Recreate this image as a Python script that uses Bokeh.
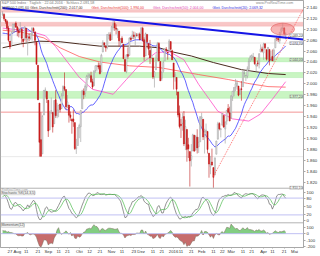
import numpy as np
import pandas as pd
from bokeh.plotting import figure
from bokeh.models import Range1d, FixedTicker, Span, Label, BoxAnnotation
from bokeh.embed import file_html
from bokeh.resources import INLINE

# ---------------- data ----------------
holidays = ["2015-09-07", "2015-11-26", "2015-12-25", "2016-01-01",
            "2016-01-18", "2016-02-15", "2016-03-25"]
days = pd.bdate_range("2015-07-20", "2016-05-10", freq="C", holidays=holidays)

# bars before the visible window (Jun 22 - Jul 17 2015), used only by indicators
pre_high = [2130.0, 2128.0, 2125.1, 2119.9, 2108.6, 2096.9, 2071.0, 2085.4, 2085.0, 2074.0,
            2083.7, 2077.0, 2074.2, 2081.3, 2100.7, 2111.0, 2114.2, 2124.4, 2128.0]
pre_low = [2110.6, 2119.9, 2108.6, 2102.3, 2095.4, 2056.2, 2056.6, 2067.0, 2071.0, 2053.3,
           2044.0, 2044.7, 2049.3, 2052.7, 2077.0, 2098.2, 2102.1, 2108.6, 2119.1]
pre_close = [2122.9, 2124.2, 2108.6, 2102.3, 2101.5, 2057.6, 2063.1, 2077.4, 2076.8, 2068.8,
             2081.3, 2046.7, 2051.3, 2076.6, 2099.6, 2109.0, 2107.4, 2124.3, 2126.6]

opens = [2126.8, 2127.0, 2118.2, 2114.2, 2102.2, 2078.2, 2070.0, 2094.0, 2108.0, 2111.0,
         2104.0, 2097.0, 2096.0, 2100.0, 2082.0, 2080.0, 2102.0, 2081.0, 2086.0, 2083.0, 2089.0, 2101.0, 2095.0, 2076.0, 2034.0, 1965.0, 1898.0, 1872.0, 1943.0, 1986.0, 1986.0,
         1970.0, 1916.0, 1950.8, 1947.8, 1927.0, 1971.0, 1941.6, 1951.5, 1963.0, 1955.0, 1978.0, 1995.0, 1989.7, 1960.8, 1961.4, 1943.2, 1934.8, 1935.9, 1929.2, 1881.9, 1887.1,
         1919.7, 1921.8, 1954.3, 1986.6, 1982.3, 1994.0, 2013.7, 2015.6, 2015.0, 2003.7, 1996.5, 2024.4, 2031.7, 2033.1, 2033.5, 2021.9, 2058.2, 2075.1, 2068.8, 2066.5, 2088.4, 2090.0,
         2080.8, 2102.6, 2110.6, 2101.7, 2098.6, 2096.6, 2077.2, 2083.4, 2072.3, 2044.6, 2022.1, 2053.7, 2052.0, 2083.7, 2082.8, 2089.4, 2084.4, 2089.3, 2088.8, 2091.0,
         2082.9, 2101.7, 2080.7, 2051.2, 2090.4, 2073.4, 2061.2, 2047.9, 2047.3, 2013.4, 2025.6, 2046.5, 2073.8, 2040.8, 2010.3, 2023.2, 2042.2, 2063.5, 2057.8, 2060.5, 2077.3, 2060.6,
         2038.2, 2013.8, 2011.7, 1985.3, 1946.0, 1926.1, 1927.8, 1940.3, 1891.7, 1916.7, 1888.7, 1876.2, 1861.5, 1877.4, 1906.3, 1878.8, 1902.5, 1885.2, 1894.0,
         1936.9, 1935.3, 1907.1, 1911.7, 1913.1, 1873.3, 1848.5, 1857.1, 1847.0, 1833.4, 1871.4, 1898.8, 1927.6, 1916.7, 1924.4, 1942.4, 1917.6, 1931.9, 1955.0, 1947.1,
         1937.1, 1976.6, 1985.6, 1994.0, 1996.1, 1996.1, 1981.4, 1991.0, 1994.7, 2019.3, 2015.3, 2014.2, 2026.9, 2041.2, 2047.9, 2048.6, 2048.6, 2032.5, 2037.9, 2035.8, 2058.3, 2063.8,
         2056.6, 2073.2, 2062.5, 2045.6, 2063.0, 2045.5, 2050.2, 2043.7, 2065.9, 2082.9, 2083.1, 2078.8, 2096.0, 2101.5, 2102.1, 2091.5]
highs = [2132.8, 2128.9, 2118.5, 2116.9, 2106.0, 2078.2, 2095.6, 2110.6, 2111.0, 2114.0,
         2105.7, 2102.5, 2112.7, 2103.0, 2082.0, 2105.4, 2102.0, 2089.0, 2092.9, 2092.5, 2102.9, 2103.5, 2096.0, 2076.0, 2034.0, 1965.0, 1948.0, 1943.0, 1989.0, 1993.5, 1986.7,
         1970.0, 1948.9, 1975.0, 1947.8, 1970.4, 1988.6, 1965.3, 1961.0, 1963.0, 1983.0, 1997.3, 2020.9, 1989.7, 1979.6, 1961.4, 1949.5, 1937.2, 1952.9, 1929.2, 1899.5, 1920.5,
         1927.2, 1951.4, 1989.2, 1991.6, 1999.3, 2016.5, 2020.1, 2018.7, 2022.3, 2009.6, 2024.2, 2033.5, 2034.5, 2039.1, 2038.0, 2055.2, 2079.7, 2075.1, 2070.4, 2090.4, 2094.3, 2094.3,
         2106.2, 2116.5, 2114.6, 2108.8, 2101.9, 2096.6, 2083.7, 2086.9, 2072.3, 2044.6, 2053.2, 2066.7, 2085.3, 2086.7, 2097.1, 2095.6, 2094.1, 2093.0, 2093.3, 2093.8,
         2103.4, 2104.3, 2085.0, 2093.8, 2090.4, 2073.9, 2080.3, 2067.7, 2047.3, 2022.9, 2053.9, 2076.7, 2076.4, 2040.8, 2022.9, 2042.7, 2064.7, 2067.4, 2057.8, 2081.6, 2077.3, 2062.5,
         2038.2, 2021.9, 2011.7, 1985.3, 1960.4, 1935.7, 1947.4, 1950.3, 1934.5, 1916.7, 1901.4, 1876.2, 1889.9, 1908.8, 1906.3, 1906.3, 1917.0, 1903.0, 1940.2,
         1947.2, 1935.3, 1918.0, 1927.4, 1913.1, 1873.3, 1868.3, 1881.6, 1847.0, 1864.8, 1895.8, 1930.7, 1930.0, 1918.8, 1946.7, 1942.4, 1932.1, 1951.8, 1963.0, 1958.3,
         1978.4, 1986.5, 1993.7, 2009.1, 2006.1, 1996.1, 1992.7, 2005.1, 2022.4, 2024.6, 2015.9, 2032.0, 2046.7, 2052.4, 2053.9, 2056.6, 2048.6, 2036.0, 2042.7, 2055.9, 2072.2, 2067.9,
         2075.1, 2074.0, 2062.5, 2067.3, 2063.0, 2060.6, 2062.9, 2065.0, 2083.2, 2087.8, 2083.2, 2094.7, 2104.1, 2111.1, 2103.8, 2094.3]
lows = [2123.7, 2115.4, 2110.0, 2098.0, 2077.1, 2063.5, 2069.0, 2094.0, 2094.0, 2102.0,
        2087.0, 2085.0, 2095.0, 2075.0, 2067.0, 2080.0, 2076.5, 2052.0, 2078.0, 2080.6, 2079.0, 2094.0, 2070.5, 2035.7, 1970.9, 1867.0, 1867.1, 1872.0, 1943.0, 1975.0, 1965.0,
        1903.0, 1916.0, 1944.7, 1911.0, 1927.0, 1937.9, 1937.2, 1939.0, 1948.0, 1954.0, 1977.9, 1986.7, 1953.5, 1955.8, 1929.2, 1932.6, 1908.9, 1921.5, 1879.2, 1871.9, 1887.1,
        1900.7, 1893.7, 1954.3, 1972.0, 1976.4, 1987.5, 2007.6, 2010.6, 2001.8, 1990.7, 1996.5, 2020.5, 2022.3, 2026.6, 2017.2, 2021.9, 2058.2, 2066.5, 2058.8, 2063.1, 2081.3, 2079.3,
        2080.8, 2097.5, 2097.0, 2090.4, 2083.7, 2068.2, 2069.9, 2074.9, 2045.7, 2022.0, 2019.4, 2045.9, 2052.0, 2078.8, 2082.8, 2081.4, 2070.3, 2086.3, 2084.1, 2080.4,
        2082.9, 2077.1, 2042.4, 2051.2, 2066.8, 2052.3, 2036.5, 2045.7, 2008.8, 1993.3, 2025.6, 2042.4, 2041.7, 2005.3, 2005.9, 2020.5, 2042.2, 2058.7, 2044.2, 2060.5, 2062.0, 2043.6,
        1989.7, 2004.2, 1979.1, 1938.8, 1918.5, 1901.1, 1914.4, 1886.3, 1878.9, 1857.8, 1864.6, 1812.3, 1849.0, 1877.4, 1876.0, 1878.8, 1872.7, 1873.7, 1894.0,
        1920.0, 1897.3, 1872.7, 1900.5, 1872.7, 1828.5, 1834.9, 1850.3, 1810.1, 1833.4, 1871.4, 1898.8, 1915.1, 1902.2, 1924.4, 1919.4, 1891.0, 1925.4, 1945.8, 1931.8,
        1937.1, 1968.8, 1977.4, 1986.8, 1989.4, 1977.4, 1979.8, 1969.2, 1994.7, 2012.1, 2005.2, 2010.0, 2022.2, 2041.2, 2043.1, 2040.6, 2034.9, 2022.5, 2032.0, 2028.3, 2058.3, 2057.5,
        2044.0, 2062.6, 2042.6, 2043.1, 2033.8, 2041.7, 2041.9, 2039.7, 2065.9, 2078.1, 2076.3, 2073.7, 2091.7, 2096.3, 2088.5, 2081.2]
closes = [2128.3, 2119.2, 2114.2, 2102.2, 2079.7, 2067.6, 2093.3, 2108.6, 2108.6, 2103.8,
          2098.0, 2093.3, 2099.8, 2083.6, 2077.6, 2104.2, 2084.1, 2086.1, 2083.4, 2091.5, 2102.4, 2096.9, 2079.6, 2035.7, 1970.9, 1893.2, 1867.6, 1940.5, 1987.7, 1988.9, 1972.2,
          1913.9, 1948.9, 1951.1, 1921.2, 1969.4, 1942.0, 1952.3, 1961.1, 1953.0, 1978.1, 1995.3, 1990.2, 1958.0, 1967.0, 1942.7, 1938.8, 1932.2, 1931.3, 1881.8, 1884.1, 1920.0,
          1923.8, 1951.4, 1987.1, 1979.9, 1995.8, 2013.4, 2014.9, 2017.5, 2003.7, 1994.2, 2023.9, 2033.1, 2033.7, 2030.8, 2018.9, 2052.5, 2075.2, 2071.2, 2065.9, 2090.4, 2089.4, 2079.4,
          2104.1, 2109.8, 2102.3, 2099.9, 2099.2, 2078.6, 2081.7, 2075.0, 2046.0, 2023.0, 2053.2, 2050.4, 2083.6, 2081.2, 2089.2, 2086.6, 2089.1, 2088.9, 2090.1, 2080.4,
          2102.6, 2079.5, 2049.6, 2091.7, 2077.1, 2063.6, 2047.6, 2052.2, 2012.4, 2021.9, 2043.4, 2073.1, 2041.9, 2005.6, 2021.2, 2039.0, 2064.3, 2061.0, 2056.5, 2078.4, 2063.4, 2043.9,
          2012.7, 2016.7, 1990.3, 1943.1, 1922.0, 1923.7, 1938.7, 1890.3, 1921.8, 1880.3, 1881.3, 1859.3, 1869.0, 1906.9, 1877.1, 1903.6, 1883.0, 1893.4, 1940.2,
          1939.4, 1903.0, 1912.5, 1915.5, 1880.1, 1853.4, 1852.2, 1851.9, 1829.1, 1864.8, 1895.6, 1926.8, 1917.8, 1917.8, 1945.5, 1921.3, 1929.8, 1951.7, 1948.1, 1932.2,
          1978.4, 1986.5, 1993.4, 2000.0, 2001.8, 1979.3, 1989.3, 1989.6, 2022.2, 2019.6, 2015.9, 2027.2, 2040.6, 2049.6, 2051.6, 2049.8, 2036.7, 2035.9, 2037.1, 2055.0, 2064.0, 2059.7,
          2072.8, 2066.1, 2045.2, 2066.7, 2041.9, 2047.6, 2042.0, 2061.7, 2082.4, 2082.8, 2080.7, 2094.3, 2100.8, 2102.4, 2091.5, 2091.6]

# long moving averages (bar index, value)
sma50_idx = [0, 19, 29, 36, 44, 52, 61, 75, 84, 93, 104, 113, 123, 133, 146, 156, 167, 175, 183, 192]
sma50_val = [2102, 2096, 2088, 2068, 2040, 2012, 1990, 1981, 2008, 2035, 2057, 2059, 2044, 1999, 1950, 1936, 1932, 1945, 1972, 2004]
sma100_idx = [0, 12, 28, 39, 52, 66, 86, 106, 133, 153, 166, 180, 192]
sma100_val = [2098, 2095, 2084, 2066, 2050, 2040, 2033, 2030, 2017, 2008, 2001, 1995, 1994]
sma200_idx = [0, 12, 25, 39, 52, 66, 79, 93, 106, 116, 128, 143, 162, 180, 192]
sma200_val = [2066, 2073, 2078, 2077, 2073, 2069, 2069, 2069, 2066, 2058, 2051, 2039, 2026, 2019, 2017]

# drawn objects
pink_zones = [(2130.7, 2136.1), (2105.4, 2112.7)]
green_zones = [(2040.4, 2047.7), (2011.5, 2020.6), (1973.6, 1986.2)]
red_level = 1948.3
dotted_levels = [2121.7, 2089.2, 2074.7, 1867.0]
zone_label_levels = [2089.2, 2074.7, 2044.0, 1977.2, 1810.1]
blue_trend = ([0, 204], [2138.5, 2081.0])
red_trend = ([143, 207], [1831.0, 2152.0])
ellipse_center = (190, 2100.0)
ellipse_size = (16.0, 21.7)

tick_dates = ["2015-07-27", "2015-08-03", "2015-08-11", "2015-08-21", "2015-09-01", "2015-09-11",
              "2015-09-21", "2015-10-01", "2015-10-12", "2015-10-21", "2015-11-02", "2015-11-11",
              "2015-11-23", "2015-12-01", "2015-12-11", "2015-12-21", "2016-01-04", "2016-01-11",
              "2016-01-21", "2016-02-01", "2016-02-11", "2016-02-22", "2016-03-01", "2016-03-11",
              "2016-03-21", "2016-04-01", "2016-04-11", "2016-04-21", "2016-05-02"]
tick_labels = ["27", "Aug", "11", "21", "Sep", "11", "21", "Okt", "12", "21", "Nov", "11", "23",
               "Dez", "11", "21", "2016", "11", "21", "Feb", "11", "22", "Mär", "11", "21",
               "Apr", "11", "21", "Mai"]
price_ticks = [1820, 1840, 1860, 1880, 1900, 1920, 1940, 1960, 1980, 2000, 2020, 2040, 2060,
               2080, 2100, 2120, 2140]
stoch_ticks = [100, 80, 50, 20, 0]
mom_ticks = [100, 0, -100, -200]

# ---------------- indicators ----------------
allH = np.array(pre_high + highs)
allL = np.array(pre_low + lows)
allC = np.array(pre_close + closes)
npre = len(pre_close)
m = len(allC)
rawK = np.full(m, np.nan)
for i in range(13, m):
    hh = allH[i - 13:i + 1].max()
    ll = allL[i - 13:i + 1].min()
    rawK[i] = 100.0 * (allC[i] - ll) / (hh - ll)
k_full = pd.Series(rawK).rolling(3).mean()
d_full = k_full.rolling(5).mean()
K = k_full.values[npre:]
D = d_full.values[npre:]
mom = allC[npre:] - allC[npre - 12:m - 12]
sma20 = pd.Series(allC).rolling(20).mean().values[npre:]

n = len(closes)
x = np.arange(n)
O = np.array(opens); H = np.array(highs); L = np.array(lows); C = np.array(closes)

# ---------------- layout geometry ----------------
PX_PER_IDX = 1.489
X0_PX = 2.1
FRAME_W = 306
FRAME_H = 250
P_TOP = 2152.4
P_PER_PX = 1.806


def price_at(ypx):
    return P_TOP - P_PER_PX * ypx


def idx_at(px):
    return (px - X0_PX) / PX_PER_IDX


S_PX = 0.2833   # px per stoch unit, 80 at y=200
M_PX = 0.065    # px per momentum point, 0 at y=236


def stoch_px(v):
    return 200 + (80 - v) * S_PX


def mom_px(v):
    return 236 - v * M_PX


x_start = idx_at(0)
x_end = idx_at(FRAME_W)

p = figure(width=320, height=256, output_backend="svg", toolbar_location=None,
           x_range=Range1d(x_start, x_end), y_range=Range1d(price_at(FRAME_H), P_TOP),
           y_axis_location="right", min_border_left=0, min_border_top=0,
           min_border_right=14, min_border_bottom=6,
           background_fill_color="white", border_fill_color="white",
           outline_line_color="#a8a8a8")
p.extra_y_ranges = {
    "stoch": Range1d(80 - (FRAME_H - 200) / S_PX, 80 + 200 / S_PX),
    "mom": Range1d(-(FRAME_H - 236) / M_PX, 236 / M_PX),
}
p.xgrid.visible = False
p.ygrid.visible = False

# axes
ticks = {}
for t in price_ticks:
    ticks[round(float(t), 3)] = f"{t:,}".replace(",", ".")
for t in stoch_ticks:
    ticks[round(price_at(stoch_px(t)), 3)] = str(t)
for t in mom_ticks:
    ticks[round(price_at(mom_px(t)), 3)] = str(t)
ya = p.yaxis[0]
ya.ticker = FixedTicker(ticks=list(ticks.keys()))
ya.major_label_overrides = ticks
ya.major_label_text_font_size = "4.3px"
ya.major_label_text_font = "Liberation Sans"
ya.major_label_text_color = "#333333"
ya.major_tick_out = 2
ya.major_tick_in = 0
ya.minor_tick_line_color = None
ya.major_label_standoff = 1
ya.axis_line_color = "#a8a8a8"
ya.major_tick_line_color = "#a8a8a8"

pos = [list(days.strftime("%Y-%m-%d")).index(d) for d in tick_dates]
xa = p.xaxis[0]
xa.ticker = FixedTicker(ticks=pos)
xa.major_label_overrides = {pp: lab for pp, lab in zip(pos, tick_labels)}
xa.major_label_text_font_size = "4.3px"
xa.major_label_text_font = "Liberation Sans"
xa.major_label_text_color = "#333333"
xa.major_tick_out = 1
xa.major_tick_in = 0
xa.minor_tick_line_color = None
xa.major_label_standoff = 0
xa.axis_line_color = "#a8a8a8"
xa.major_tick_line_color = "#a8a8a8"

# zones & levels
for lo, hi in pink_zones:
    p.add_layout(BoxAnnotation(bottom=lo, top=hi, fill_color="#f8c6c6", fill_alpha=1.0,
                               line_color="#ef8d8d", line_width=0.7, level="underlay"))
for lo, hi in green_zones:
    p.add_layout(BoxAnnotation(bottom=lo, top=hi, fill_color="#c9f5c2", fill_alpha=1.0,
                               line_color="#69d96a", line_width=0.8, level="underlay"))
p.add_layout(Span(location=red_level, dimension="width", line_color="#f08a8a",
                  line_width=0.9, level="underlay"))
for lvl, col in zip(dotted_levels, ["#b8b8b8", "#a8a8e8", "#b8b8b8", "#c0c0c0"]):
    p.add_layout(Span(location=lvl, dimension="width", line_color=col, line_width=0.7,
                      line_dash="1 1", level="underlay"))

# panel separators / stoch & momentum reference lines
p.add_layout(Span(location=price_at(190), dimension="width", line_color="#a0a0a0", line_width=0.8))
p.add_layout(Span(location=price_at(225), dimension="width", line_color="#a0a0a0", line_width=0.8))
for lv in (80, 20):
    p.add_layout(Span(location=lv, dimension="width", y_range_name="stoch",
                      line_color="#b9b9f2", line_width=0.9))
p.add_layout(Span(location=0, dimension="width", y_range_name="mom",
                  line_color="#b9b9f2", line_width=0.9))

# moving averages
p.line(sma200_idx, sma200_val, line_color="#4a2c20", line_width=1.0)
p.line(sma100_idx, sma100_val, line_color="#ff5a5a", line_width=0.8)
p.line(sma50_idx, sma50_val, line_color="#ff4fc8", line_width=0.8)
p.line(x, sma20, line_color="#3b3bff", line_width=0.8)

# candles
inc = C >= O
wick_col = np.where(inc, "#9a9a9a", "#c01c1c")
p.segment(x0=x, y0=L, x1=x, y1=H, line_color=list(wick_col), line_width=0.6)
p.vbar(x=x[inc], width=0.72, top=np.maximum(O, C)[inc], bottom=np.minimum(O, C)[inc],
       fill_color="#f4f4f4", line_color="#9a9a9a", line_width=0.5)
p.vbar(x=x[~inc], width=0.72, top=np.maximum(O, C)[~inc], bottom=np.minimum(O, C)[~inc],
       fill_color="#d81e1e", line_color="#b81414", line_width=0.5)

# trendlines and ellipse
p.line(blue_trend[0], blue_trend[1], line_color="#1414e6", line_width=2)
p.line(red_trend[0], red_trend[1], line_color="#ff6060", line_width=0.9, line_dash="1 1")
p.ellipse(x=[ellipse_center[0]], y=[ellipse_center[1]], width=ellipse_size[0],
          height=ellipse_size[1], fill_color="#f07a7a", fill_alpha=0.55,
          line_color="#e06060", line_width=0.6)

# stochastic
p.line(x, K, line_color="#666666", line_width=0.7, y_range_name="stoch")
p.line(x, D, line_color="#4cbb4c", line_width=0.7, y_range_name="stoch")

# momentum
pos_m = np.maximum(mom, 0)
neg_m = np.minimum(mom, 0)
p.varea(x=x, y1=0, y2=pos_m, fill_color="#6cc46c", fill_alpha=0.85, y_range_name="mom")
p.varea(x=x, y1=0, y2=neg_m, fill_color="#bd5252", fill_alpha=0.85, y_range_name="mom")
p.line(x, mom, line_color="#7a6a5a", line_width=0.5, y_range_name="mom")


# ---------------- texts ----------------
def de(v, nd=2):
    return f"{v:,.{nd}f}".replace(",", "X").replace(".", ",").replace("X", ".")


def lab(px, ypx, text, color="#555555", size="3.7px", align="left", bg=None, border=None,
        y_data=None, x_data=None):
    kw = dict(x=idx_at(px) if x_data is None else x_data,
              y=price_at(ypx) if y_data is None else y_data,
              text=text, text_color=color, text_font_size=size, text_align=align,
              text_baseline="middle", text_font="Liberation Sans")
    if bg:
        kw["background_fill_color"] = bg
    if border:
        kw["border_line_color"] = border
        kw["border_line_width"] = 0.5
    p.add_layout(Label(**kw))


lab(1, 2.6, "S&P 500 Index  ·  Täglich  ·  22.04.2016  ·  Schluss 2.091,58", color="#777777")
lab(258, 2.6, "www.ProRealTime.com", color="#888888", size="3.6px")
lab(1, 7.2, "S&P500 " + de(C[-1]), color="#444444", size="3.5px")
lab(30, 7.2, "Gleit. Durchschnitt(200): " + de(sma200_val[-1]), color="#4a2c20", size="3.5px")
lab(92, 7.2, "Gleit. Durchschnitt(100): " + de(sma100_val[-1]), color="#e83030", size="3.5px")
lab(154, 7.2, "Gleit. Durchschnitt(50): " + de(sma50_val[-1]), color="#e03fb0", size="3.5px")
lab(214, 7.2, "Gleit. Durchschnitt(20): " + de(sma20[-1]), color="#3030e0", size="3.5px")

# in-frame level labels
for lvl, bgc in zip(zone_label_levels, ["white", "#eeeefc", "#d8f7d2", "#d8f7d2", "white"]):
    lab(305, 0, de(lvl), color="#555555", size="3.3px", align="right", bg=bgc,
        border="#a0a0a0", y_data=lvl)

lab(1, 191.2, "ProRealTime.com", color="#999999", size="3.3px")
lab(1, 194.6, "Stochastic %K(14,3,5)", color="#555555", size="3.4px", bg="#f2f2f2",
    border="#bdbdbd")
lab(1, 227.6, "Momentum(12)", color="#555555", size="3.4px", bg="#f2f2f2", border="#bdbdbd")

# value boxes on the right scale
xr = x_end + 0.25
lab(0, 0, de(C[-1]), color="#222222", size="3.6px", bg="#f5c518", x_data=xr, y_data=C[-1])
lab(0, 0, de(blue_trend[1][1]), color="white", size="3.6px", bg="#3a3ae8", x_data=xr,
    y_data=blue_trend[1][1] - 6)
lab(0, 0, de(sma200_val[-1]), color="white", size="3.6px", bg="#4a2c20", x_data=xr,
    y_data=sma200_val[-1] + 2)
lab(0, 0, de(sma50_val[-1]), color="white", size="3.6px", bg="#ff4fc8", x_data=xr,
    y_data=sma50_val[-1] - 2)
lab(0, 0, de(sma100_val[-1]), color="white", size="3.6px", bg="#ff5a5a", x_data=xr,
    y_data=sma100_val[-1] - 7)
lab(0, 0, de(D[-1]), color="#222222", size="3.4px", bg="#bfeebf", x_data=xr,
    y_data=price_at(stoch_px(D[-1])))
lab(0, 0, de(K[-1]), color="#222222", size="3.4px", bg="#dddddd", x_data=xr,
    y_data=price_at(stoch_px(K[-1])) - 5)
lab(0, 0, de(mom[-1]), color="#222222", size="3.4px", bg="#dddddd", x_data=xr,
    y_data=price_at(mom_px(mom[-1])))

open("out.html", "w").write(file_html(p, INLINE, "S&P 500"))
